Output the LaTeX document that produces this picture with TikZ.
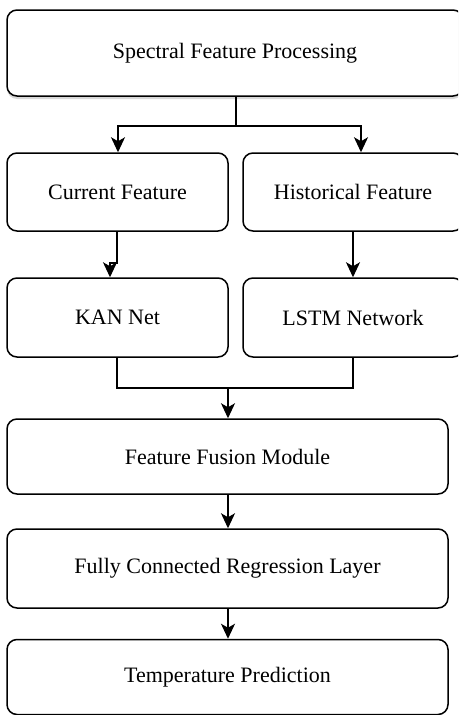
\documentclass[tikz,border=0pt]{standalone}
\usepackage{fontspec}
\setmainfont{Liberation Serif}
\usetikzlibrary{arrows.meta,shadows}
\begin{document}
\begin{tikzpicture}[x=1pt,y=-1pt,
  box/.style={draw, fill=white, line width=1.5pt, rounded corners=10pt,
    font=\fontsize{22}{26}\selectfont, inner sep=0pt, anchor=center},
  ln/.style={line width=1.5pt},
  arr/.style={line width=1.5pt, -{Stealth[length=15pt,width=14pt,inset=4pt]}}]
\useasboundingbox (0,0) rectangle (458,715);
\clip (0,0) rectangle (458,715);
\node[box, minimum width=456pt, minimum height=86pt,
  drop shadow={shadow xshift=0pt, shadow yshift=-3pt, fill=gray!60, opacity=0.5}] (spf) at (235,53) {Spectral Feature Processing};
\node[box, minimum width=221pt, minimum height=78pt] (cur) at (117.5,192) {Current Feature};
\node[box, minimum width=220pt, minimum height=78pt] (his) at (353,192) {Historical Feature};
\node[box, minimum width=221pt, minimum height=79pt] (kan) at (117.5,317.5) {KAN Net};
\node[box, minimum width=220pt, minimum height=79pt] (lstm) at (353,317.5) {LSTM Network};
\node[box, minimum width=441pt, minimum height=75pt] (fus) at (227.5,456.5) {Feature Fusion Module};
\node[box, minimum width=441pt, minimum height=79pt] (fc) at (227.5,568.5) {Fully Connected Regression Layer};
\node[box, minimum width=441pt, minimum height=75pt] (tp) at (227.5,677) {Temperature Prediction};
\coordinate (j1) at (236,126);
\coordinate (xl) at (118,0);
\coordinate (xr) at (361,0);
\coordinate (k1) at (117,263);
\coordinate (k2) at (110,263);
\coordinate (xk) at (117,0);
\coordinate (xh) at (353,0);
\coordinate (m) at (228,388);
\draw[ln] (j1 |- spf.south) -- (j1);
\draw[arr] (j1) -| (xl |- cur.north);
\draw[arr] (j1) -| (xr |- his.north);
\draw[arr] (k1 |- cur.south) -- (k1) -- (k2) -- (k2 |- kan.north);
\draw[arr] (xh |- his.south) -- (xh |- lstm.north);
\draw[ln] (xk |- kan.south) -- (xk |- m) -- (xh |- m) -- (xh |- lstm.south);
\draw[arr] (m) -- (m |- fus.north);
\draw[arr] (m |- fus.south) -- (m |- fc.north);
\draw[arr] (m |- fc.south) -- (m |- tp.north);
\end{tikzpicture}
\end{document}
